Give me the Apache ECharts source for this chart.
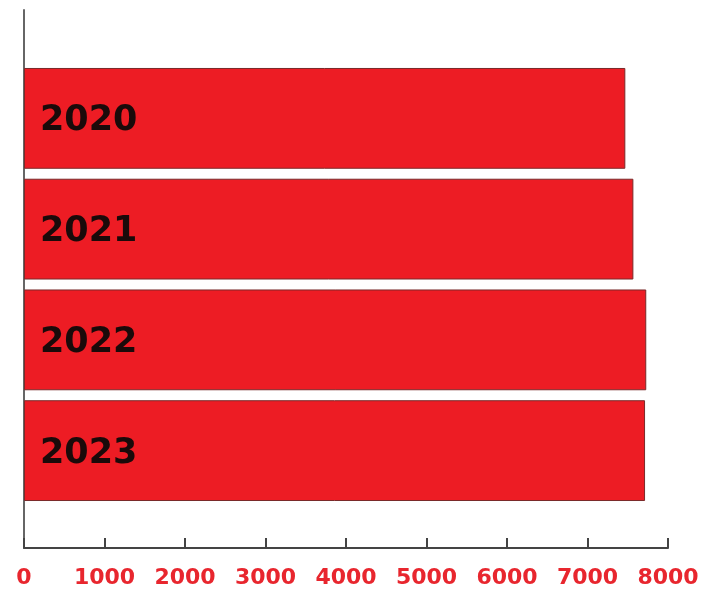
<!DOCTYPE html>
<html><head><meta charset="utf-8">
<script src="https://cdn.jsdelivr.net/npm/echarts@6/dist/echarts.min.js"></script>
<style>html,body{margin:0;padding:0;background:#fff}#c{width:719px;height:597px}</style>
</head><body><div id="c"></div>
<script>
const categories = ['2020', '2021', '2022', '2023'];
const values = [7470, 7570, 7730, 7715];
const xTicks = [0, 1000, 2000, 3000, 4000, 5000, 6000, 7000, 8000];

const chart = echarts.init(document.getElementById('c'));
chart.setOption({
  animation: false,
  grid: [
    { left: 24, right: 51, top: 10, bottom: 49 },
    { left: 24, right: 51, top: 63, height: 443 }
  ],
  xAxis: [
    { gridIndex: 0, type: 'value', min: xTicks[0], max: xTicks[xTicks.length - 1], interval: 1000,
      axisLine: { show: true, lineStyle: { color: '#444', width: 2 } },
      axisTick: { show: true, inside: true, length: 10, lineStyle: { color: '#444', width: 2 } },
      splitLine: { show: false },
      axisLabel: { color: '#e8262e', fontFamily: 'DejaVu Sans', fontWeight: 'bold', fontSize: 22, margin: 19,
        formatter: function (v) { return String(v); } } },
    { gridIndex: 1, type: 'value', min: xTicks[0], max: xTicks[xTicks.length - 1], show: false }
  ],
  yAxis: [
    { gridIndex: 0, type: 'value', min: 0, max: 1,
      axisLine: { show: true, lineStyle: { color: '#666', width: 2 } },
      axisTick: { show: false }, axisLabel: { show: false }, splitLine: { show: false } },
    { gridIndex: 1, type: 'category', data: categories, inverse: true, show: false }
  ],
  series: [{
    type: 'bar', xAxisIndex: 1, yAxisIndex: 1, data: values,
    barCategoryGap: '9%',
    itemStyle: { color: '#ed1c24', borderColor: '#7a2a2a', borderWidth: 1 },
    label: { show: true, position: 'insideLeft', distance: 16, formatter: '{b}',
      color: '#1a0a0a', fontFamily: 'DejaVu Sans', fontWeight: 'bold', fontSize: 35, offset: [0, 3] }
  }]
});
</script></body></html>
